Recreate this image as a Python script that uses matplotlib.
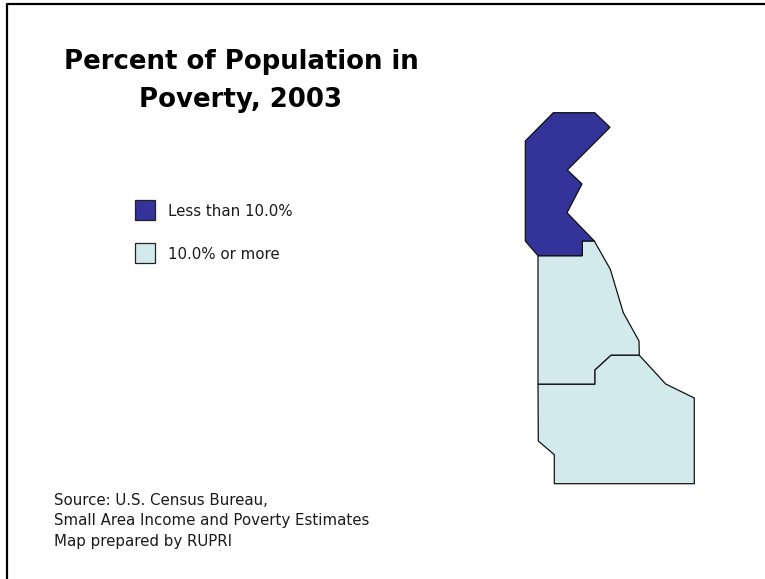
import matplotlib
matplotlib.use("Agg")
import matplotlib.pyplot as plt
from matplotlib.patches import Polygon, Rectangle

W, H = 765, 579
NAVY = "#333399"
PALE = "#D3EAEC"

title_lines = ["Percent of Population in", "Poverty, 2003"]
legend_labels = ["Less than 10.0%", "10.0% or more"]
source_lines = ["Source: U.S. Census Bureau,", "Small Area Income and Poverty Estimates", "Map prepared by RUPRI"]

north_x = [553.3, 594.7, 610, 567.3, 582, 567, 594.3, 582.3, 582.3, 538, 525.3, 525.3]
north_y = [112.7, 112.7, 127.3, 170, 184, 212.7, 241, 241, 255.7, 255.7, 241, 141]
middle_x = [538, 582.3, 582.3, 594.3, 610.3, 623.3, 639, 639.3, 611, 595, 595, 538]
middle_y = [255.7, 255.7, 241, 241, 269.3, 312.7, 341, 355.3, 355.3, 370, 384.3, 384.3]
south_x = [538, 595, 595, 611, 639.3, 665.7, 694.3, 694.3, 554.3, 554.3, 538.3]
south_y = [384.3, 384.3, 370, 355.3, 355.3, 384, 398, 483.7, 483.7, 454.7, 441]

fig = plt.figure(figsize=(W / 100, H / 100), dpi=100, facecolor="white")
ax = fig.add_axes([0, 0, 1, 1])
ax.set_xlim(0, W)
ax.set_ylim(H, 0)
ax.axis("off")

# frame
ax.plot([7, 7, W + 5], [H + 5, 3.5, 3.5], color="black", lw=1.6, solid_capstyle="butt", clip_on=True)

for xs, ys, c in [(middle_x, middle_y, PALE), (south_x, south_y, PALE), (north_x, north_y, NAVY)]:
    ax.add_patch(Polygon(list(zip(xs, ys)), closed=True, facecolor=c, edgecolor="#111111", lw=0.9))

for y, line in zip([69, 107], title_lines):
    ax.text(241, y, line, ha="center", va="baseline", fontsize=18.7,
            fontweight="bold", family=["DejaVu Sans"], color="black")

for y, ty, lab, c in zip([200.3, 243.3], [216.5, 259], legend_labels, [NAVY, PALE]):
    ax.add_patch(Rectangle((135.5, y), 19.5, 20, facecolor=c, edgecolor="#222222", lw=0.9))
    ax.text(168, ty, lab, ha="left", va="baseline", fontsize=10.8,
            family=["DejaVu Sans"], color="#1a1a1a")

for y, line in zip([504.7, 525, 546], source_lines):
    ax.text(54, y, line, ha="left", va="baseline", fontsize=10.8,
            family=["DejaVu Sans"], color="#1a1a1a")

fig.savefig("out.png", dpi=100)
